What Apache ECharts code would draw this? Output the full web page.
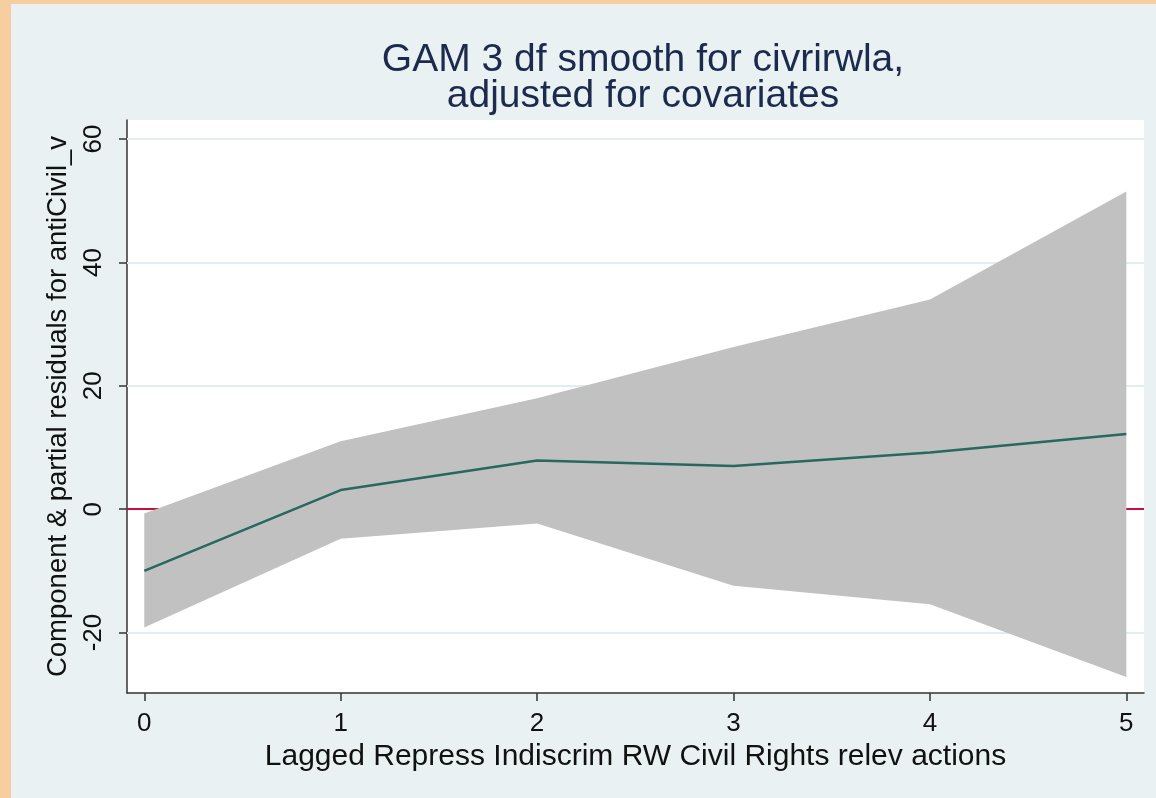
<!DOCTYPE html>
<html>
<head>
<meta charset="utf-8">
<script src="https://cdn.jsdelivr.net/npm/echarts@6/dist/echarts.min.js"></script>
<style>
  html, body { margin: 0; padding: 0; background: #f6cea0; }
  #chart { position: absolute; left: 11px; top: 4px; width: 1145px; height: 794px; }
</style>
</head>
<body>
<div id="chart"></div>
<script>
// lagged repress values (x) and the GAM fit with its band
var xs = [0, 1, 2, 3, 4, 5];
var fit = [-10, 3.1, 7.9, 7.0, 9.2, 12.2];
var upper = [-0.7, 11.0, 18.0, 26.3, 34.0, 51.5];
var lower = [-19.2, -4.8, -2.3, -12.4, -15.4, -27.2];
var xTicks = [0, 1, 2, 3, 4, 5];
var yTicks = [-20, 0, 20, 40, 60];
var gridValues = [-20, 20, 40, 60];

var font = 'Liberation Sans, Arial, sans-serif';

// band rows: x, lower, upper
var bandData = xs.map(function (x, i) { return [x, lower[i], upper[i]]; });
var fitData = xs.map(function (x, i) { return [x, fit[i]]; });

var chart = echarts.init(document.getElementById('chart'));
chart.setOption({
  backgroundColor: '#eaf1f3',
  animation: false,
  title: {
    text: 'GAM 3 df smooth for civrirwla,\nadjusted for covariates',
    left: 627,
    top: 33,
    textAlign: 'center',
    textStyle: { color: '#1c2a4d', fontFamily: font, fontWeight: 'normal', fontSize: 39, lineHeight: 36 }
  },
  grid: { left: 116, top: 116, right: 12, bottom: 105, show: true, backgroundColor: '#ffffff', borderWidth: 0 },
  xAxis: {
    type: 'value',
    min: -0.088,
    max: 5.09,
    name: 'Lagged Repress Indiscrim RW Civil Rights relev actions',
    nameLocation: 'middle',
    nameGap: 47,
    nameTextStyle: { color: '#111', fontFamily: font, fontSize: 30 },
    axisLine: { onZero: false, lineStyle: { color: '#333', width: 1.5 } },
    axisTick: { show: true, customValues: xTicks, length: 8, lineStyle: { color: '#333', width: 1.5 } },
    axisLabel: { customValues: xTicks, color: '#111', fontFamily: font, fontSize: 26, margin: 18 },
    splitLine: { show: false }
  },
  yAxis: {
    type: 'value',
    min: -29.8,
    max: 63.1,
    name: 'Component & partial residuals for antiCivil_v',
    nameLocation: 'middle',
    nameGap: 55,
    nameTextStyle: { color: '#111', fontFamily: font, fontSize: 27.5 },
    axisLine: { onZero: false, lineStyle: { color: '#333', width: 1.5 } },
    axisTick: { show: true, customValues: yTicks, length: 8, lineStyle: { color: '#333', width: 1.5 } },
    axisLabel: { customValues: yTicks, rotate: 90, color: '#111', fontFamily: font, fontSize: 26, margin: 20 },
    splitLine: { show: false }
  },
  series: [
    {
      // gridlines and the zero reference line
      type: 'line',
      data: [],
      silent: true,
      z: 1,
      markLine: {
        symbol: 'none',
        silent: true,
        z: 1,
        label: { show: false },
        data: gridValues.map(function (v) {
          return { yAxis: v, lineStyle: { color: '#e3edf0', width: 2, type: 'solid' } };
        }).concat([{ yAxis: 0, lineStyle: { color: '#c8103a', width: 2, type: 'solid' } }])
      }
    },
    {
      type: 'custom',
      z: 10,
      silent: true,
      data: bandData,
      encode: { x: 0, y: [1, 2] },
      renderItem: function (params, api) {
        if (params.dataIndex !== 0) return null;
        var top = [], bottom = [];
        for (var i = 0; i < bandData.length; i++) {
          top.push(api.coord([bandData[i][0], bandData[i][2]]));
          bottom.unshift(api.coord([bandData[i][0], bandData[i][1]]));
        }
        return {
          type: 'polygon',
          shape: { points: top.concat(bottom) },
          style: { fill: '#c1c1c1', stroke: null }
        };
      }
    },
    {
      type: 'line',
      z: 11,
      data: fitData,
      symbol: 'none',
      lineStyle: { color: '#27695c', width: 2.5 }
    }
  ]
});
</script>
</body>
</html>
